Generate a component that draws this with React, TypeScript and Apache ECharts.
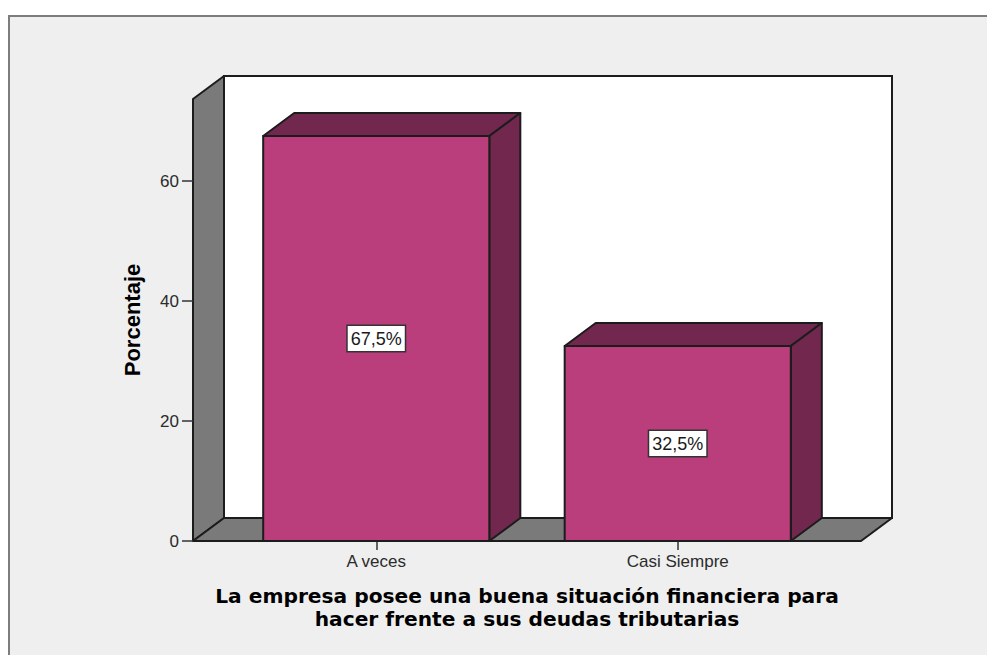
import React, { useEffect, useRef } from "react";
import * as echarts from "echarts";

const categories = ["A veces", "Casi Siempre"];
const percentages = [67.5, 32.5];
const percentLabels = ["67,5%", "32,5%"];
const yTicks = [0, 20, 40, 60];
const yMax = 73.67;
const xTitle = "La empresa posee una buena situación financiera para\nhacer frente a sus deudas tributarias";
const yTitle = "Porcentaje";

const W = 987;
const H = 655;
const DX = 31;
const DY = -23;
const gridLeft = 225.5;
const gridRight = 828.5;
const gridTop = 99;
const gridBottom = 541;
const outerLeft = 193;
const outerRight = 861;

const ink = "#1c1c1c";
const front = "#b93e7b";
const dark = "#72274f";
const wall = "#7a7a7a";

export default function App() {
  const ref = useRef<HTMLDivElement>(null);
  useEffect(() => {
    const chart = echarts.init(ref.current!, null, { renderer: "svg" });
    const poly = (points: number[][], fill: string) => ({
      type: "polygon",
      z: 0,
      shape: { points },
      style: { fill, stroke: ink, lineWidth: 2, lineJoin: "round" },
    });
    chart.setOption({
      animation: false,
      backgroundColor: "#ffffff",
      textStyle: { fontFamily: "Liberation Sans" },
      grid: {
        left: gridLeft,
        top: gridTop,
        width: gridRight - gridLeft,
        height: gridBottom - gridTop,
      },
      graphic: [
        {
          type: "rect",
          z: -1,
          shape: { x: 9, y: 16, width: W + 20, height: H },
          style: { fill: "#efefef", stroke: "#7d7d7d", lineWidth: 2 },
        },
        {
          type: "rect",
          z: 0,
          shape: {
            x: outerLeft + DX,
            y: gridTop + DY,
            width: outerRight - outerLeft,
            height: gridBottom - gridTop,
          },
          style: { fill: "#ffffff", stroke: ink, lineWidth: 2 },
        },
        poly(
          [
            [outerLeft, gridTop],
            [outerLeft + DX, gridTop + DY],
            [outerLeft + DX, gridBottom + DY],
            [outerLeft, gridBottom],
          ],
          wall
        ),
        poly(
          [
            [outerLeft, gridBottom],
            [outerRight, gridBottom],
            [outerRight + DX, gridBottom + DY],
            [outerLeft + DX, gridBottom + DY],
          ],
          wall
        ),
      ],
      xAxis: {
        type: "category",
        data: categories,
        axisLine: { show: false },
        axisTick: { show: true, alignWithLabel: true, length: 9, lineStyle: { color: "#333", width: 1.5 } },
        axisLabel: { color: "#2b2b2b", fontSize: 17, margin: 12, fontFamily: "Liberation Sans" },
        name: xTitle,
        nameLocation: "middle",
        nameGap: 43,
        nameTextStyle: {
          color: "#000",
          fontSize: 20.2,
          fontWeight: "bold",
          lineHeight: 23,
          fontFamily: "DejaVu Sans",
        },
      },
      yAxis: {
        type: "value",
        min: 0,
        max: yMax,
        offset: gridLeft - outerLeft,
        splitLine: { show: false },
        axisLine: { show: false },
        axisTick: {
          show: true,
          length: 11,
          customValues: yTicks,
          lineStyle: { color: "#333", width: 1.5 },
        },
        axisLabel: {
          color: "#2b2b2b",
          fontSize: 17,
          margin: 14,
          customValues: yTicks,
          fontFamily: "Liberation Sans",
        },
        name: yTitle,
        nameLocation: "middle",
        nameGap: 50,
        nameTextStyle: { color: "#000", fontSize: 22, fontWeight: "bold", fontFamily: "Liberation Sans" },
      },
      series: [
        {
          type: "custom",
          clip: false,
          data: percentages.map((v, i) => [i, v]),
          encode: { x: 0, y: 1 },
          renderItem: (params: any, api: any) => {
            const i = api.value(0);
            const v = api.value(1);
            const base = api.coord([i, 0]);
            const top = api.coord([i, v]);
            const mid = api.coord([i, v / 2]);
            const half = (api.size([1, 0])[0] * 0.75) / 2;
            const l = base[0] - half;
            const r = base[0] + half;
            const style = (fill: string) => ({ fill, stroke: ink, lineWidth: 2, lineJoin: "round" });
            return {
              type: "group",
              children: [
                {
                  type: "polygon",
                  shape: {
                    points: [
                      [l, top[1]],
                      [r, top[1]],
                      [r + DX, top[1] + DY],
                      [l + DX, top[1] + DY],
                    ],
                  },
                  style: style(dark),
                },
                {
                  type: "polygon",
                  shape: {
                    points: [
                      [r, top[1]],
                      [r + DX, top[1] + DY],
                      [r + DX, base[1] + DY],
                      [r, base[1]],
                    ],
                  },
                  style: style(dark),
                },
                {
                  type: "rect",
                  shape: { x: l, y: top[1], width: r - l, height: base[1] - top[1] },
                  style: style(front),
                },
                {
                  type: "text",
                  x: base[0],
                  y: mid[1],
                  style: {
                    text: percentLabels[params.dataIndex],
                    align: "center",
                    verticalAlign: "middle",
                    fill: "#1a1a1a",
                    font: "18px 'Liberation Sans'",
                    backgroundColor: "#ffffff",
                    borderColor: "#333333",
                    borderWidth: 1.5,
                    padding: [4, 3, 3, 3],
                  },
                },
              ],
            };
          },
        },
      ],
    });
    return () => chart.dispose();
  }, []);
  return <div ref={ref} style={{ position: "fixed", left: 0, top: 0, width: W, height: H }} />;
}
